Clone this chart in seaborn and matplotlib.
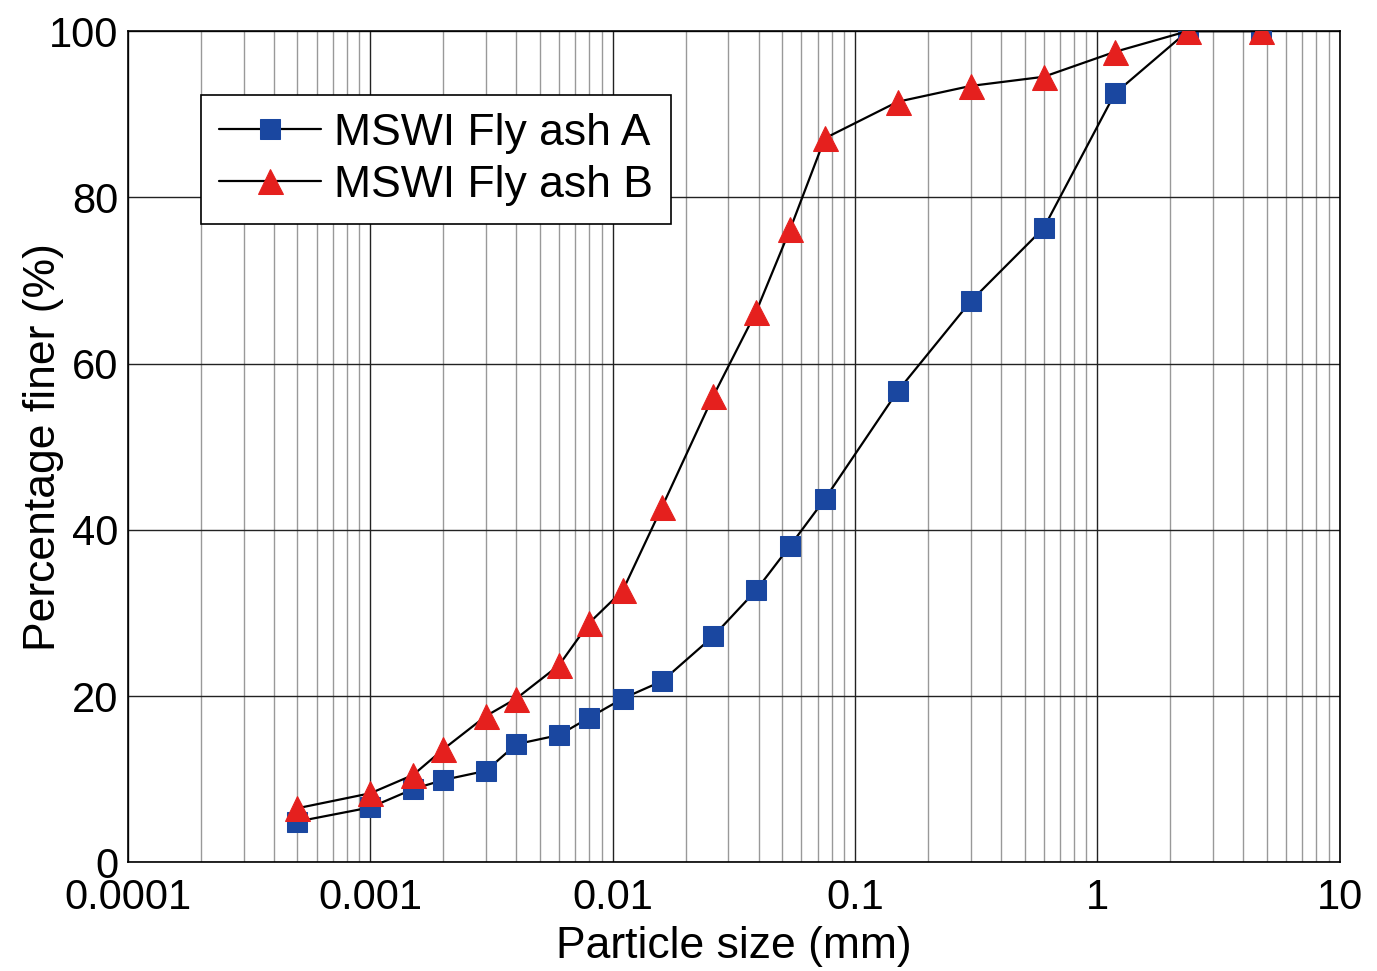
import matplotlib
matplotlib.use("Agg")
import matplotlib.pyplot as plt
import matplotlib.ticker as mticker
import seaborn as sns
import pandas as pd
import numpy as np

sns.set_style("white")
plt.rcParams['font.family'] = ['Liberation Sans', 'DejaVu Sans']
plt.rcParams['text.color'] = 'black'
plt.rcParams['axes.labelcolor'] = 'black'
plt.rcParams['xtick.color'] = 'black'
plt.rcParams['ytick.color'] = 'black'

size_a = [0.0005, 0.001, 0.0015, 0.002, 0.003, 0.004, 0.006, 0.008, 0.011, 0.016,
          0.026, 0.039, 0.054, 0.075, 0.15, 0.3, 0.6, 1.18, 2.36, 4.75]
finer_a = [4.9, 6.6, 8.8, 9.9, 11.0, 14.2, 15.3, 17.4, 19.7, 21.8,
           27.2, 32.7, 38.1, 43.7, 56.7, 67.5, 76.3, 92.5, 100, 100]
size_b = [0.0005, 0.001, 0.0015, 0.002, 0.003, 0.004, 0.006, 0.008, 0.011, 0.016,
          0.026, 0.039, 0.054, 0.075, 0.15, 0.3, 0.6, 1.18, 2.36, 4.75]
finer_b = [6.5, 8.3, 10.5, 13.6, 17.6, 19.7, 23.7, 28.8, 32.7, 42.8,
           56.1, 66.2, 76.2, 87.1, 91.5, 93.4, 94.5, 97.5, 100, 100]
labels = ["MSWI Fly ash A", "MSWI Fly ash B"]
xticks = [0.0001, 0.001, 0.01, 0.1, 1, 10]
xticklabels = ["0.0001", "0.001", "0.01", "0.1", "1", "10"]

df_a = pd.DataFrame({"size": size_a, "finer": finer_a})
df_b = pd.DataFrame({"size": size_b, "finer": finer_b})

fig = plt.figure(figsize=(13.77, 9.71), dpi=100)
ax = fig.add_axes([0.093, 0.112, 0.880, 0.856])

ax.set_xscale("log")
ax.set_xlim(0.0001, 10)
ax.set_ylim(0, 100)

ax.xaxis.set_major_locator(mticker.FixedLocator(xticks))
ax.xaxis.set_major_formatter(mticker.FixedFormatter(xticklabels))
ax.xaxis.set_minor_locator(mticker.LogLocator(base=10, subs=np.arange(2, 10), numticks=20))
ax.xaxis.set_minor_formatter(mticker.NullFormatter())
ax.yaxis.set_major_locator(mticker.MultipleLocator(20))
ax.yaxis.set_minor_locator(mticker.MultipleLocator(10))

ax.grid(True, which="major", color="#222222", linewidth=1.0)
ax.grid(True, which="minor", axis="x", color="#999999", linewidth=1.0)
ax.set_axisbelow(True)

sns.lineplot(data=df_a, x="size", y="finer", ax=ax, color="black", linewidth=1.6,
             marker="s", markersize=14, markerfacecolor="#1a47a0",
             markeredgecolor="#1a47a0", label=labels[0], zorder=3)
sns.lineplot(data=df_b, x="size", y="finer", ax=ax, color="black", linewidth=1.6,
             marker="^", markersize=18, markerfacecolor="#e5201e",
             markeredgecolor="#e5201e", label=labels[1], zorder=4)

for sp in ax.spines.values():
    sp.set_color("black")
    sp.set_linewidth(1.2)

ax.tick_params(axis="both", which="major", labelsize=30, length=5, width=1, color="black",
               direction="out", pad=2)
ax.tick_params(axis="y", which="minor", length=3, direction="out")
ax.tick_params(axis="x", which="minor", length=0)
ax.tick_params(axis="x", which="major", length=0, pad=11)

ax.set_xlabel("Particle size (mm)", fontsize=32, labelpad=6)
ax.set_ylabel("Percentage finer (%)", fontsize=32)
ax.yaxis.set_label_coords(-0.053, 0.5)

leg = ax.legend(loc="upper left", bbox_to_anchor=(0.060, 0.923), borderaxespad=0,
                fontsize=32, frameon=True, fancybox=False, edgecolor="black", framealpha=1,
                handlelength=2.3, handletextpad=0.3, borderpad=0.4, labelspacing=0.25)
leg.get_frame().set_linewidth(1.2)

fig.savefig("out.png", dpi=100)
